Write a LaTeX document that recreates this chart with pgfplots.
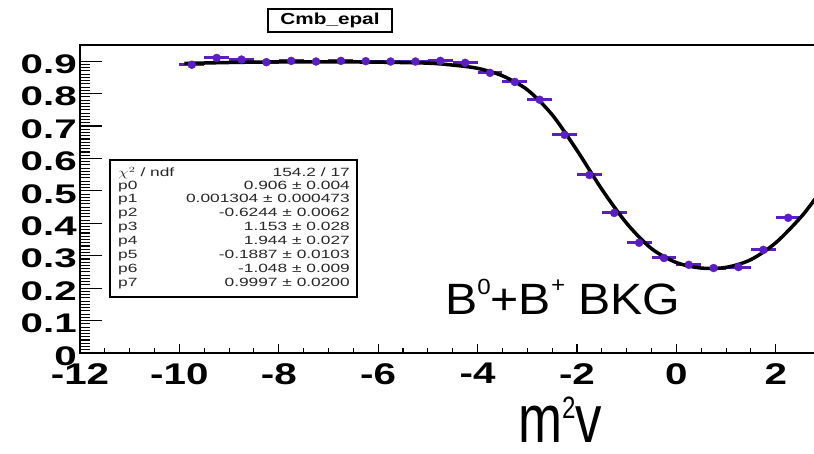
\documentclass[border=0pt]{standalone}
\usepackage{fontspec}
\setmainfont{Liberation Sans}
\usepackage{graphicx}
\usepackage{pgfplots}
\pgfplotsset{compat=1.18}
\definecolor{rootpurple}{RGB}{90,30,195}
\definecolor{statgray}{RGB}{40,40,40}

% stats box text: narrow ROOT font stretched sideways
\newcommand\st[1]{\scalebox{1.45}[1]{\fontsize{12}{12}\selectfont #1}}

\pgfplotsset{
  roothisto/.style={
    at={(80bp,101bp)}, anchor=south west,
    scale only axis, width=735bp, height=308bp,
    xmin=-12, xmax=2.79, ymin=0, ymax=0.95,
    axis line style={line width=1.6bp},
    tick style={line width=1.1bp, black},
    tick align=inside,
  }
}

\begin{document}
\begin{tikzpicture}[x=1bp,y=1bp]
\useasboundingbox (0,0) rectangle (814,454);

\begin{axis}[roothisto,
  xtick={-12,-10,-8,-6,-4,-2,0,2}, minor x tick num=3,
  ytick=\empty, xtick pos=left,
  major tick length=9bp, minor tick length=4.5bp,
  xticklabel style={anchor=north, inner sep=0pt, yshift=-10bp},
  xticklabel={\scalebox{1.35}[1]{\fontsize{30}{30}\selectfont\bfseries\pgfmathprintnumber[assume math mode=true]{\tick}}},
]
% data points, bin width 0.5
\addplot[only marks, mark=*, mark size=4bp, rootpurple,
  error bars/.cd, x dir=both, x explicit, y dir=both, y explicit,
  error bar style={line width=3bp, rootpurple}, error mark=none]
  coordinates {
  (-9.75,0.889) +- (0.25,0.008)
  (-9.25,0.910) +- (0.25,0.008)
  (-8.75,0.905) +- (0.25,0.008)
  (-8.25,0.897) +- (0.25,0.008)
  (-7.75,0.901) +- (0.25,0.008)
  (-7.25,0.899) +- (0.25,0.008)
  (-6.75,0.901) +- (0.25,0.008)
  (-6.25,0.900) +- (0.25,0.008)
  (-5.75,0.899) +- (0.25,0.008)
  (-5.25,0.899) +- (0.25,0.008)
  (-4.75,0.901) +- (0.25,0.008)
  (-4.25,0.895) +- (0.25,0.008)
  (-3.75,0.864) +- (0.25,0.008)
  (-3.25,0.836) +- (0.25,0.008)
  (-2.75,0.781) +- (0.25,0.008)
  (-2.25,0.673) +- (0.25,0.008)
  (-1.75,0.549) +- (0.25,0.008)
  (-1.25,0.432) +- (0.25,0.008)
  (-0.75,0.340) +- (0.25,0.008)
  (-0.25,0.293) +- (0.25,0.008)
  (0.25,0.272) +- (0.25,0.008)
  (0.75,0.262) +- (0.25,0.008)
  (1.25,0.265) +- (0.25,0.008)
  (1.75,0.318) +- (0.25,0.008)
  (2.25,0.417) +- (0.25,0.008)
  };
% fitted curve
\addplot[black, line width=3.5bp, smooth, tension=0.5] coordinates {
  (-9.9,0.893) (-9,0.896) (-8,0.898) (-7,0.898) (-6,0.897) (-5,0.894)
  (-4.5,0.888) (-4,0.878) (-3.5,0.855) (-3,0.812) (-2.5,0.735)
  (-2,0.625) (-1.5,0.505) (-1,0.400) (-0.5,0.322) (0,0.279)
  (0.5,0.262) (1,0.264) (1.5,0.288) (2,0.340) (2.5,0.418) (2.79,0.475)
};
\end{axis}

% second frame only for the longer y ticks
\begin{axis}[roothisto,
  xtick=\empty, ytick={0,0.1,0.2,0.3,0.4,0.5,0.6,0.7,0.8,0.9},
  minor y tick num=9, ytick pos=left,
  major tick length=22bp, minor tick length=10bp,
  yticklabel style={anchor=east, inner sep=0pt, xshift=-3bp, yshift=-3bp},
  yticklabel={\scalebox{1.5}[1]{\fontsize{27}{27}\selectfont\bfseries\pgfmathprintnumber[assume math mode=true]{\tick}}},
]
\addplot[draw=none] coordinates {(0,0)};
\end{axis}

% title box
\draw[line width=1.5bp, fill=white] (268,422) rectangle (392,445);
\node at (330,433.5) {\scalebox{1.3}[1]{\fontsize{16}{16}\selectfont\bfseries Cmb\_epal}};

% fit statistics box
\draw[line width=1.3bp, fill=white] (110,157) rectangle (357,294);
\begin{scope}[every node/.style={inner sep=0pt, text=statgray}]
\node[anchor=base west] at (118,277) {\st{$\chi^{2}$ / ndf}};
\node[anchor=base east] at (350,277) {\st{154.2 / 17}};
\node[anchor=base west] at (118,264) {\st{p0}};
\node[anchor=base east] at (350,264) {\st{0.906 ± 0.004}};
\node[anchor=base west] at (118,251) {\st{p1}};
\node[anchor=base east] at (350,251) {\st{0.001304 ± 0.000473}};
\node[anchor=base west] at (118,237) {\st{p2}};
\node[anchor=base east] at (350,237) {\st{-0.6244 ± 0.0062}};
\node[anchor=base west] at (118,223) {\st{p3}};
\node[anchor=base east] at (350,223) {\st{1.153 ± 0.028}};
\node[anchor=base west] at (118,209) {\st{p4}};
\node[anchor=base east] at (350,209) {\st{1.944 ± 0.027}};
\node[anchor=base west] at (118,195) {\st{p5}};
\node[anchor=base east] at (350,195) {\st{-0.1887 ± 0.0103}};
\node[anchor=base west] at (118,181) {\st{p6}};
\node[anchor=base east] at (350,181) {\st{-1.048 ± 0.009}};
\node[anchor=base west] at (118,167) {\st{p7}};
\node[anchor=base east] at (350,167) {\st{0.9997 ± 0.0200}};
\end{scope}

% annotations
\node[anchor=base west, inner sep=0pt] at (445,139) {\scalebox{1.1}[1]{\fontsize{44}{44}\selectfont B\raisebox{20bp}{\fontsize{22}{22}\selectfont 0}+B\raisebox{22bp}{\fontsize{22}{22}\selectfont +} BKG}};
\node[anchor=base west, inner sep=0pt] at (518,11) {\scalebox{0.78}[1]{\fontsize{68}{68}\selectfont m\raisebox{24bp}{\fontsize{31}{31}\selectfont 2}v}};
\end{tikzpicture}
\end{document}
